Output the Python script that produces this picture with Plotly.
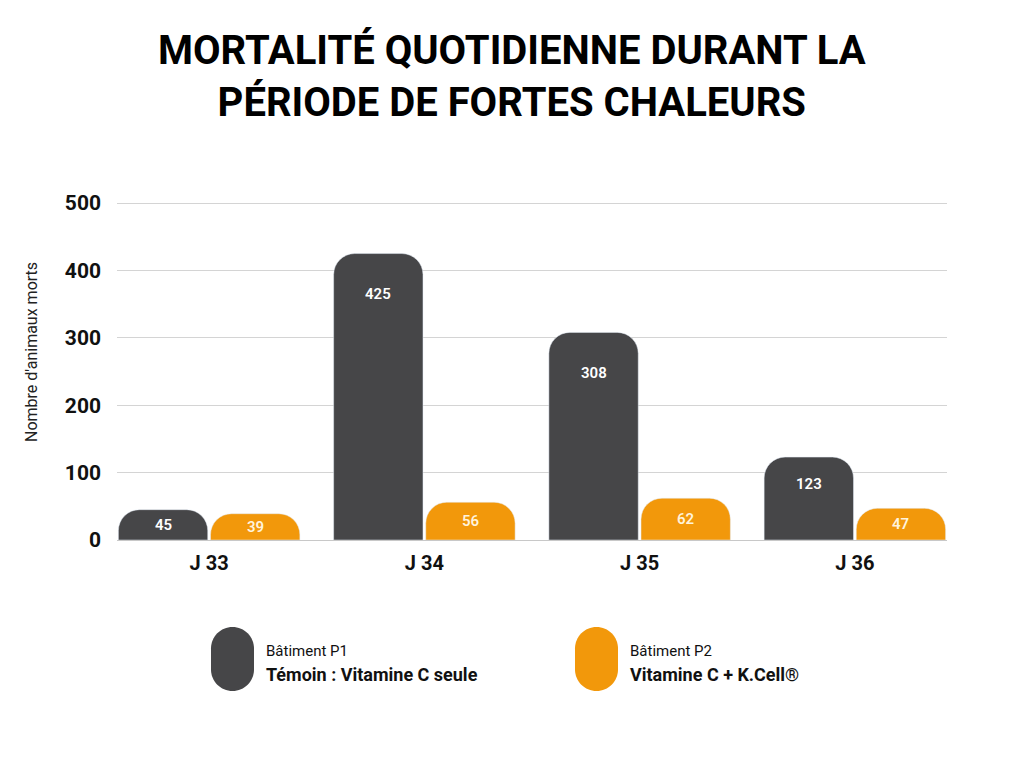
import plotly.graph_objects as go

categories = ["J 33", "J 34", "J 35", "J 36"]
p1_values = [45, 425, 308, 123]
p2_values = [39, 56, 62, 47]
y_ticks = [0, 100, 200, 300, 400, 500]

title_text = "MORTALITÉ QUOTIDIENNE DURANT LA<br>PÉRIODE DE FORTES CHALEURS"
y_title = "Nombre d'animaux morts"
legend_p1 = ("Bâtiment P1", "Témoin : Vitamine C seule")
legend_p2 = ("Bâtiment P2", "Vitamine C + K.Cell®")

DARK = "#464648"
ORANGE = "#F2980B"
W, H = 1024, 768
FONT = "Roboto"


def px_x(x):
    return x / W


def px_y(y):
    return 1 - y / H


fig = go.Figure()
fig.add_trace(go.Bar(x=categories, y=p1_values, marker_color=DARK, name=legend_p1[1],
                     hoverinfo="y"))
fig.add_trace(go.Bar(x=categories, y=p2_values, marker_color=ORANGE, name=legend_p2[1],
                     hoverinfo="y"))

# value labels inside the bars, near the top of tall bars, centred in short ones
annotations = []
for vals, shift, col in [(p1_values, -46, "#FFFFFF"), (p2_values, 46, "#FFF3DC")]:
    for c, v in zip(categories, vals):
        annotations.append(dict(
            x=c, y=v - min(v / 2, 60, 20 + v / 6), xref="x", yref="y", xshift=shift,
            yanchor="middle", text=str(v), showarrow=False,
            font=dict(family=FONT, size=15, color=col, weight=600),
        ))

# y-axis title
annotations.append(dict(
    x=px_x(32), y=px_y(352), xref="paper", yref="paper", text=y_title,
    textangle=-90, showarrow=False, xanchor="center", yanchor="middle",
    font=dict(family=FONT, size=16, color="#222222"),
))

# title
annotations.append(dict(
    x=0.5, y=px_y(77), xref="paper", yref="paper", text=title_text,
    showarrow=False, align="center", xanchor="center", yanchor="middle",
    font=dict(family=FONT, size=40, color="#000000", weight=700),
))

# legend text
for (small, big), x0 in [(legend_p1, 264), (legend_p2, 628)]:
    annotations.append(dict(x=px_x(x0), y=px_y(651), xref="paper", yref="paper",
                            xanchor="left", yanchor="middle", text=small, showarrow=False,
                            font=dict(family=FONT, size=15, color="#111111")))
    annotations.append(dict(x=px_x(x0), y=px_y(674), xref="paper", yref="paper",
                            xanchor="left", yanchor="middle", text=big, showarrow=False,
                            font=dict(family=FONT, size=18, color="#111111", weight=700)))


def pill_path(x0, y0, w, h):
    r = w / 2
    k = 0.5523 * r
    xl, xr, xc = x0, x0 + w, x0 + w / 2
    yt, yb = y0, y0 + h
    pts = [
        ("M", [(xl, yt + r)]),
        ("C", [(xl, yt + r - k), (xc - k, yt), (xc, yt)]),
        ("C", [(xc + k, yt), (xr, yt + r - k), (xr, yt + r)]),
        ("L", [(xr, yb - r)]),
        ("C", [(xr, yb - r + k), (xc + k, yb), (xc, yb)]),
        ("C", [(xc - k, yb), (xl, yb - r + k), (xl, yb - r)]),
    ]
    s = ""
    for cmd, ps in pts:
        s += cmd + " " + " ".join(f"{px_x(a):.5f},{px_y(b):.5f}" for a, b in ps) + " "
    return s + "Z"


shapes = [
    dict(type="path", xref="paper", yref="paper", path=pill_path(211, 627, 43, 64),
         fillcolor=DARK, line=dict(width=0)),
    dict(type="path", xref="paper", yref="paper", path=pill_path(575, 627, 43, 64),
         fillcolor=ORANGE, line=dict(width=0)),
]

fig.update_layout(
    width=W, height=H,
    margin=dict(l=0, r=0, t=0, b=0),
    paper_bgcolor="white", plot_bgcolor="white",
    barmode="group", bargap=0.144, bargroupgap=0.03, barcornerradius=21,
    showlegend=False,
    annotations=annotations, shapes=shapes,
    font=dict(family=FONT),
    xaxis=dict(domain=[px_x(117), px_x(947)], range=[-0.428, 3.428],
               showgrid=False, zeroline=False, showline=False, ticks="",
               ticklabelstandoff=9,
               tickfont=dict(family=FONT, size=20, color="#111111", weight=700),
               automargin=False),
    yaxis=dict(domain=[px_y(540), px_y(202)], range=[0, 501.5], tickvals=y_ticks,
               showgrid=True, gridcolor="#D4D4D4", gridwidth=1,
               zeroline=True, zerolinecolor="#C8C8C8", zerolinewidth=1,
               showline=False, ticks="", ticklabelstandoff=15,
               tickfont=dict(family=FONT, size=21, color="#111111", weight=700),
               automargin=False),
)

fig.write_html("out.html")
